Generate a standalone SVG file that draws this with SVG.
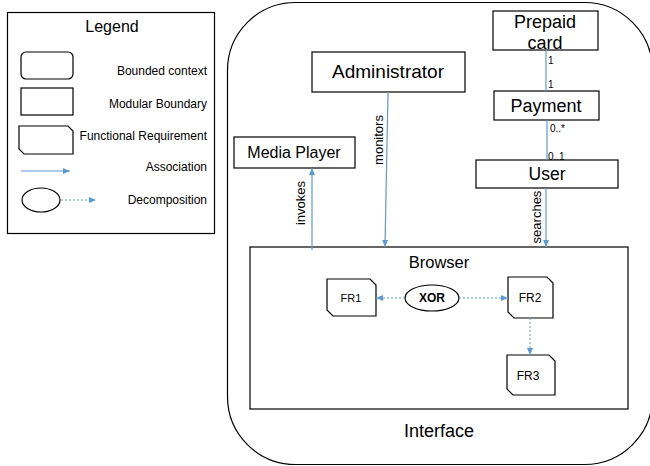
<svg xmlns="http://www.w3.org/2000/svg" width="650" height="466" viewBox="0 0 650 466">
<defs>
<style>
.box{fill:#fff;stroke:#000;stroke-width:1.2}
.shape{fill:none;stroke:#000;stroke-width:1.2}
.t{font-family:"Liberation Sans",Arial,sans-serif;fill:#000}
.assoc{stroke:#5B9BD5;stroke-width:1.2;fill:none}
.decomp{stroke:#5B9BD5;stroke-width:1;stroke-dasharray:2,2;fill:none}
</style>
<marker id="ah" markerWidth="8" markerHeight="8" refX="7" refY="4" orient="auto" markerUnits="userSpaceOnUse">
<path d="M0,1 L7,4 L0,7 Z" fill="#5B9BD5"/>
</marker>
</defs>
<rect width="650" height="466" fill="#fff"/>

<g id="legend">
<rect class="shape" x="7.5" y="12.5" width="207" height="221"/>
<text class="t" x="112" y="32" font-size="16" text-anchor="middle">Legend</text>
<rect class="shape" x="21" y="52" width="52" height="27" rx="5"/>
<text class="t" x="207" y="75" font-size="12" text-anchor="end">Bounded context</text>
<rect class="shape" x="21" y="88" width="52" height="27"/>
<text class="t" x="207" y="108" font-size="12" text-anchor="end">Modular Boundary</text>
<path class="shape" d="M19,126 H68 L73,131 V154 H24 L19,149 Z"/>
<text class="t" x="207" y="140" font-size="12" text-anchor="end">Functional Requirement</text>
<line class="assoc" x1="21" y1="171" x2="70" y2="171" marker-end="url(#ah)"/>
<text class="t" x="207" y="171" font-size="12" text-anchor="end">Association</text>
<ellipse class="shape" cx="41" cy="200" rx="19" ry="12"/>
<line class="decomp" x1="61" y1="200" x2="96" y2="200" marker-end="url(#ah)"/>
<text class="t" x="207" y="204" font-size="12" text-anchor="end">Decomposition</text>
</g>

<g id="interface">
<rect class="shape" x="227.5" y="2.5" width="425" height="462" rx="68"/>
<text class="t" x="439" y="437" font-size="18" text-anchor="middle">Interface</text>
</g>

<g id="administrator">
<rect class="box" x="312" y="52" width="153" height="40"/>
<text class="t" x="388" y="78" font-size="19" text-anchor="middle">Administrator</text>
</g>

<g id="prepaid-card">
<rect class="box" x="493" y="11" width="105" height="39"/>
<text class="t" x="545" y="28" font-size="18" text-anchor="middle">Prepaid</text>
<text class="t" x="545" y="49" font-size="18" text-anchor="middle">card</text>
</g>

<g id="payment">
<rect class="box" x="494" y="91" width="105" height="29"/>
<text class="t" x="546" y="112" font-size="18" text-anchor="middle">Payment</text>
</g>

<g id="media-player">
<rect class="box" x="234" y="137" width="121" height="31"/>
<text class="t" x="294" y="158" font-size="16" text-anchor="middle">Media Player</text>
</g>

<g id="user">
<rect class="box" x="476" y="160" width="142" height="28"/>
<text class="t" x="547" y="180" font-size="17.5" text-anchor="middle">User</text>
</g>

<g id="browser">
<rect class="box" x="250" y="247" width="378" height="162"/>
<text class="t" x="439" y="268" font-size="16.5" text-anchor="middle">Browser</text>
</g>

<g id="fr1">
<path class="box" d="M327,279 H370 L376,285 V316 H333 L327,310 Z"/>
<text class="t" x="351" y="302" font-size="11" text-anchor="middle">FR1</text>
</g>

<g id="xor">
<ellipse class="box" cx="432" cy="298" rx="27" ry="13"/>
<text class="t" x="432" y="302" font-size="12" font-weight="bold" text-anchor="middle">XOR</text>
</g>

<g id="fr2">
<path class="box" d="M508,277 H547 L553,283 V318 H514 L508,312 Z"/>
<text class="t" x="530" y="302" font-size="12" text-anchor="middle">FR2</text>
</g>

<g id="fr3">
<path class="box" d="M507,355 H549 L555,361 V395 H513 L507,389 Z"/>
<text class="t" x="528" y="380" font-size="12" text-anchor="middle">FR3</text>
</g>

<g id="connectors">
<line class="assoc" x1="546" y1="50" x2="546" y2="91"/>
<text class="t" x="548" y="64" font-size="10">1</text>
<text class="t" x="548" y="88" font-size="10">1</text>
<line class="assoc" x1="547" y1="120" x2="547" y2="160"/>
<text class="t" x="550" y="132" font-size="10">0..*</text>
<text class="t" x="548" y="160" font-size="10">0..1</text>
<line class="assoc" x1="388" y1="92" x2="385" y2="247" marker-end="url(#ah)"/>
<text class="t" font-size="13" text-anchor="middle" transform="translate(383,140) rotate(-90)">monitors</text>
<line class="assoc" x1="312" y1="250" x2="312" y2="168" marker-end="url(#ah)"/>
<text class="t" font-size="13" text-anchor="middle" transform="translate(305,203) rotate(-90)">invokes</text>
<line class="assoc" x1="546" y1="188" x2="546" y2="247" marker-end="url(#ah)"/>
<text class="t" font-size="13" text-anchor="middle" transform="translate(541,217) rotate(-90)">searches</text>
<line class="decomp" x1="405" y1="298" x2="376" y2="298" marker-end="url(#ah)"/>
<line class="decomp" x1="459" y1="298" x2="508" y2="298" marker-end="url(#ah)"/>
<line class="decomp" x1="530" y1="318" x2="530" y2="355" marker-end="url(#ah)"/>
</g>
</svg>
